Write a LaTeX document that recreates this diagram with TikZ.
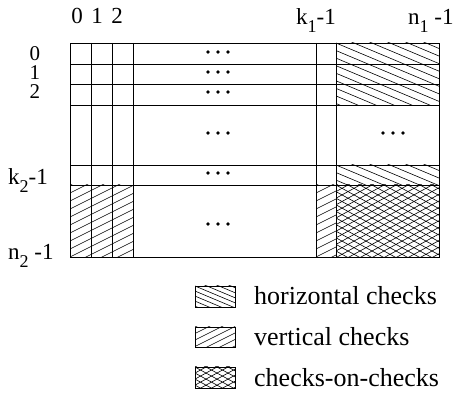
\documentclass[tikz,border=0pt]{standalone}
\usepackage{fontspec}
\setmainfont{Liberation Serif}
\newcommand{\hatchrect}[6]{%
  \begin{scope}
    \clip (#1,#2) rectangle (#3,#4);
    \foreach \i in {-45,...,45}{
      \draw[hatchline] ({#1+\i*(#6)},#2) ++(-300,{-300*(#5)}) -- ++(600,{600*(#5)});
    }
  \end{scope}}
\newcommand{\sub}[1]{\raisebox{-8pt}{\fontsize{18}{18}\selectfont #1}}
\newcommand{\threedots}[2]{%
  \foreach \dx in {-10,0,10}{\fill ({#1+\dx},#2) circle (1.9);}}
\begin{document}
\begin{tikzpicture}[x=1pt,y=-1pt,
  gridline/.style={line width=0.9pt},
  hatchline/.style={line width=0.6pt},
  lab/.style={font=\fontsize{23}{23}\selectfont, inner sep=0},
  rowlab/.style={font=\fontsize{21}{14}\selectfont, inner sep=0, text height=14pt, text depth=0pt},
  leg/.style={font=\fontsize{26}{26}\selectfont, inner sep=0, anchor=base west}]
\useasboundingbox (0,0) rectangle (456,393);
% hatched regions
\hatchrect{336}{43}{439}{105}{0.42}{18}
\hatchrect{336}{165}{439}{185}{0.42}{18}
\hatchrect{70}{185}{133}{257}{-0.5}{16}
\hatchrect{316}{185}{336}{257}{-0.5}{16}
\hatchrect{336}{185}{439}{257}{0.55}{12}
\hatchrect{336}{185}{439}{257}{-0.55}{12}
% grid
\draw[gridline] (70,43) rectangle (439,257);
\foreach \x in {91,112,133,316,336}{\draw[gridline] (\x,43) -- (\x,257);}
\foreach \y in {64,84,105,165,185}{\draw[gridline] (70,\y) -- (439,\y);}
% dots
\foreach \y in {52,72,92,133,173,224}{\threedots{218}{\y}}
\threedots{393}{133}
% column labels
\node[lab, anchor=base] (c0) at (77,24) {0};
\node[lab, anchor=base] (c1) at (97,24) {1};
\node[lab, anchor=base] (c2) at (117,24) {2};
\node[lab, anchor=base west] (ck) at (296,25) {k\sub{1}-1};
\node[lab, anchor=base west] (cn) at (408,25) {n\sub{1} -1};
% row labels
\node[rowlab, anchor=base] (r0) at (35,61) {0};
\node[rowlab, anchor=base] (r1) at (35,80) {1};
\node[rowlab, anchor=base] (r2) at (35,99) {2};
\node[lab, anchor=base west] (rk) at (8,185) {k\sub{2}-1};
\node[lab, anchor=base west] (rn) at (8,260) {n\sub{2} -1};
% legend
\hatchrect{195}{286}{235}{307}{0.42}{12}
\draw[gridline] (195,286) rectangle (235,307);
\hatchrect{195}{327}{235}{347}{-0.5}{13}
\draw[gridline] (195,327) rectangle (235,347);
\hatchrect{195}{367}{235}{388}{0.55}{11}
\hatchrect{195}{367}{235}{388}{-0.55}{11}
\draw[gridline] (195,367) rectangle (235,388);
\node[leg] (l1) at (254,305) {horizontal checks};
\node[leg] (l2) at (254,345) {vertical checks};
\node[leg] (l3) at (254,386) {checks-on-checks};
\end{tikzpicture}
\end{document}
